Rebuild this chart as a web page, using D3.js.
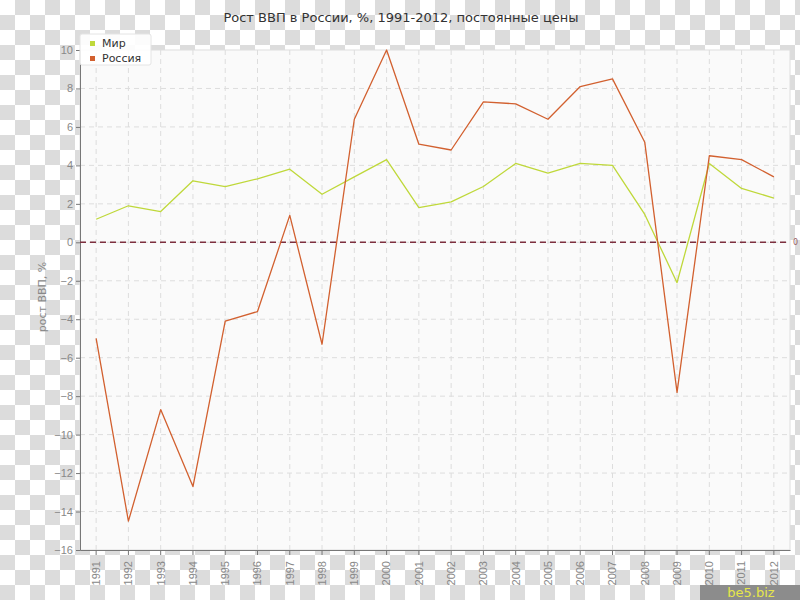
<!DOCTYPE html>
<html>
<head>
<meta charset="utf-8">
<script src="https://cdn.jsdelivr.net/npm/d3@7"></script>
<style>
body { margin: 0; }
svg { display: block; font-family: "DejaVu Sans", Verdana, sans-serif; }
</style>
</head>
<body>
<svg width="800" height="600"></svg>
<script>
var years = [1991,1992,1993,1994,1995,1996,1997,1998,1999,2000,2001,2002,2003,2004,2005,2006,2007,2008,2009,2010,2011,2012];
var mir = [1.2,1.9,1.6,3.2,2.9,3.3,3.8,2.5,3.4,4.3,1.8,2.1,2.9,4.1,3.6,4.1,4.0,1.45,-2.1,4.1,2.8,2.3];
var russia = [-5.0,-14.5,-8.7,-12.7,-4.1,-3.6,1.4,-5.3,6.4,10.0,5.1,4.8,7.3,7.2,6.4,8.1,8.5,5.2,-7.8,4.5,4.3,3.4];
var yTicks = [-16,-14,-12,-10,-8,-6,-4,-2,0,2,4,6,8,10];
var seriesNames = ["Мир", "Россия"];
var seriesColors = ["#bfd83a", "#d2602f"];

var svg = d3.select("svg");
var margin = { top: 50, right: 10, bottom: 50, left: 80 },
	width = 800 - margin.left - margin.right,
	height = 600 - margin.top - margin.bottom;

// checkerboard background (transparent png look)
var defs = svg.append("defs");
var pat = defs.append("pattern")
	.attr("id", "checker")
	.attr("width", 30).attr("height", 30)
	.attr("patternUnits", "userSpaceOnUse");
pat.append("rect").attr("width", 30).attr("height", 30).attr("fill", "#ffffff");
pat.append("rect").attr("x", 15).attr("y", 0).attr("width", 15).attr("height", 15).attr("fill", "#dcdcdc");
pat.append("rect").attr("x", 0).attr("y", 15).attr("width", 15).attr("height", 15).attr("fill", "#dcdcdc");
svg.append("rect").attr("width", 800).attr("height", 600).attr("fill", "url(#checker)");

var xScale = d3.scaleBand()
	.domain(years)
	.range([0, width]);

var yScale = d3.scaleLinear()
	.domain([-16, 10])
	.range([height, 0]);

var g = svg.append("g").attr("transform", "translate(" + margin.left + "," + margin.top + ")");

g.append("rect")
	.attr("width", width)
	.attr("height", height)
	.attr("fill", "#fafafa")
	.attr("stroke", "#dedede");

function xc(d) { return xScale(d) + xScale.bandwidth() / 2; }

// grid
g.append("g").selectAll("line")
	.data(years)
	.join("line")
	.attr("x1", xc).attr("x2", xc)
	.attr("y1", 0).attr("y2", height)
	.attr("stroke", "#dddddd")
	.attr("stroke-dasharray", "5,4");

g.append("g").selectAll("line")
	.data(yTicks.filter(function(t) { return t > -16 && t < 10; }))
	.join("line")
	.attr("x1", 0).attr("x2", width)
	.attr("y1", yScale).attr("y2", yScale)
	.attr("stroke", "#dddddd")
	.attr("stroke-dasharray", "5,4");

// axes
var yAxis = d3.axisLeft(yScale).tickValues(yTicks).tickSize(4).tickPadding(3);
var yg = g.append("g").call(yAxis);
yg.select(".domain").attr("stroke", "#777");
yg.selectAll(".tick line").attr("stroke", "#777");
yg.selectAll("text").attr("fill", "#888").style("font-size", "11px");

var xAxis = d3.axisBottom(xScale).tickSize(5).tickSizeOuter(0);
var xg = g.append("g").attr("transform", "translate(0," + height + ")").call(xAxis);
xg.select(".domain").attr("stroke", "#777");
xg.selectAll(".tick line").attr("stroke", "#777");
xg.selectAll("text")
	.attr("fill", "#888")
	.style("font-size", "11px")
	.attr("transform", "rotate(-90)")
	.attr("text-anchor", "end")
	.attr("x", -11)
	.attr("y", 0)
	.attr("dy", "0.35em");

// zero line
g.append("line")
	.attr("x1", 0).attr("x2", width)
	.attr("y1", yScale(0)).attr("y2", yScale(0))
	.attr("stroke", "#7d2f3e")
	.attr("stroke-width", 1.5)
	.attr("stroke-dasharray", "6,4");
g.append("text")
	.attr("x", width + 3)
	.attr("y", yScale(0))
	.attr("dy", "0.35em")
	.attr("fill", "#9a6060")
	.style("font-size", "8px")
	.text("0");

// series lines
var line = d3.line()
	.x(function(d, i) { return xc(years[i]); })
	.y(function(d) { return yScale(d); });

[mir, russia].forEach(function(s, i) {
	g.append("path")
		.datum(s)
		.attr("fill", "none")
		.attr("stroke", seriesColors[i])
		.attr("stroke-width", 1.3)
		.attr("stroke-linejoin", "round")
		.attr("d", line);
});

// title
svg.append("text")
	.attr("x", 401)
	.attr("y", 22)
	.attr("text-anchor", "middle")
	.attr("fill", "#333")
	.style("font-size", "13px")
	.text("Рост ВВП в России, %, 1991-2012, постоянные цены");

// y axis label
svg.append("text")
	.attr("transform", "translate(46,297) rotate(-90)")
	.attr("text-anchor", "middle")
	.attr("fill", "#888")
	.style("font-size", "11px")
	.text("рост ВВП, %");

// legend
var legend = svg.append("g").attr("transform", "translate(80,34)");
legend.append("rect")
	.attr("width", 71).attr("height", 31)
	.attr("rx", 2)
	.attr("fill", "#ffffff")
	.attr("fill-opacity", 0.9)
	.attr("stroke", "#e4e4e4");
seriesNames.forEach(function(n, i) {
	legend.append("rect")
		.attr("x", 10).attr("y", 7 + i * 15)
		.attr("width", 5).attr("height", 5)
		.attr("fill", seriesColors[i]);
	legend.append("text")
		.attr("x", 22).attr("y", 13 + i * 15)
		.attr("fill", "#333")
		.style("font-size", "11px")
		.text(n);
});

// watermark
svg.append("rect")
	.attr("x", 700).attr("y", 585)
	.attr("width", 100).attr("height", 15)
	.attr("fill", "#8c8c8c");
svg.append("text")
	.attr("x", 751).attr("y", 597)
	.attr("text-anchor", "middle")
	.attr("fill", "#e6e64a")
	.style("font-size", "13px")
	.text("be5.biz");
</script>
</body>
</html>
